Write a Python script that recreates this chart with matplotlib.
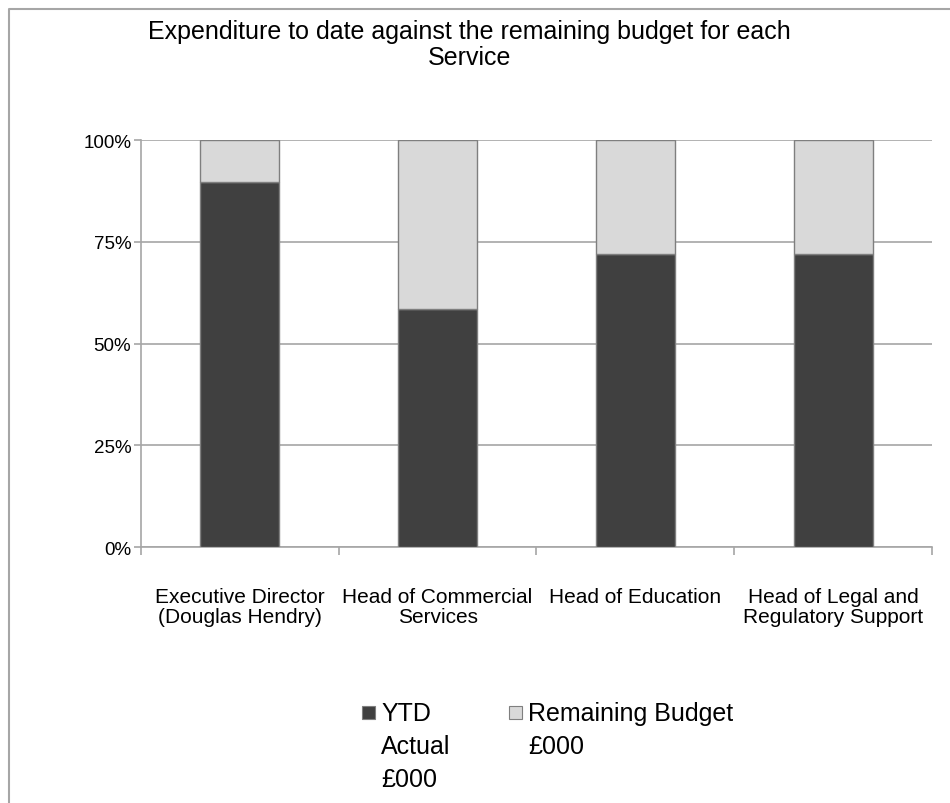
import matplotlib
matplotlib.use("Agg")
import matplotlib.pyplot as plt
from matplotlib.lines import Line2D
from matplotlib.patches import Rectangle

plt.rcParams['font.family'] = ['Liberation Sans', 'DejaVu Sans']

# share of each service's budget, in percent
services = [
    "Executive Director\n(Douglas Hendry)",
    "Head of Commercial\nServices",
    "Head of Education",
    "Head of Legal and\nRegulatory Support",
]
ytd_actual = [89.7, 58.4, 71.9, 71.9]
remaining = [10.3, 41.6, 28.1, 28.1]
yticks = [0, 25, 50, 75, 100]
ytick_labels = ["0%", "25%", "50%", "75%", "100%"]

dark = "#404040"
light = "#d9d9d9"
edge = "#7f7f7f"
grid = "#a6a6a6"

fig = plt.figure(figsize=(9.5, 8.04), dpi=100)
ax = fig.add_axes([0.1484, 0.3184, 0.8326, 0.5062])

x = list(range(len(services)))
ax.bar(x, ytd_actual, width=0.4, color=dark, edgecolor=edge, linewidth=1, zorder=3)
ax.bar(x, remaining, width=0.4, bottom=ytd_actual, color=light, edgecolor=edge,
       linewidth=1, zorder=3)

ax.set_xlim(-0.5, len(services) - 0.5)
ax.set_ylim(0, 100)
ax.set_yticks(yticks)
ax.set_yticklabels(ytick_labels, fontsize=13.5)
ax.yaxis.grid(True, color=grid, linewidth=1.2, zorder=0)
ax.tick_params(axis="y", length=5, width=1.2, color=grid, pad=2)

# boundary ticks between categories, labels at the centres
ax.set_xticks([i - 0.5 for i in range(len(services) + 1)])
ax.set_xticklabels([])
ax.set_xticks(x, minor=True)
ax.set_xticklabels(services, minor=True, fontsize=15, linespacing=1.05)
ax.tick_params(axis="x", which="major", length=6, width=1.2, color=grid)
ax.tick_params(axis="x", which="minor", length=0, pad=29)

for side in ["top", "right"]:
    ax.spines[side].set_visible(False)
for side in ["left", "bottom"]:
    ax.spines[side].set_color(grid)
    ax.spines[side].set_linewidth(1.2)

fig.text(0.494, 0.944, "Expenditure to date against the remaining budget for each\nService",
         ha="center", va="center", fontsize=18, linespacing=1.08)

# legend drawn by hand so the swatch sits on the first line of wrapped labels
legend_items = [
    (dark, ["YTD", "Actual", "£000"], 362, 381),
    (light, ["Remaining Budget", "£000"], 509, 528),
]
for color, lines, sx, tx in legend_items:
    fig.add_artist(Rectangle((sx / 950, 1 - 720 / 804), 13 / 950, 13 / 804,
                             transform=fig.transFigure, facecolor=color,
                             edgecolor=edge, linewidth=0.8))
    for k, line in enumerate(lines):
        fig.text(tx / 950, 1 - (721 + 33 * k) / 804, line, ha="left",
                 va="baseline", fontsize=18)

# chart area frame, top and left edges
fig.add_artist(Line2D([9 / 950, 9 / 950, 1], [0, 1 - 10 / 804, 1 - 10 / 804],
                      transform=fig.transFigure, color=grid, linewidth=1.5))

fig.savefig("out.png", dpi=100)
